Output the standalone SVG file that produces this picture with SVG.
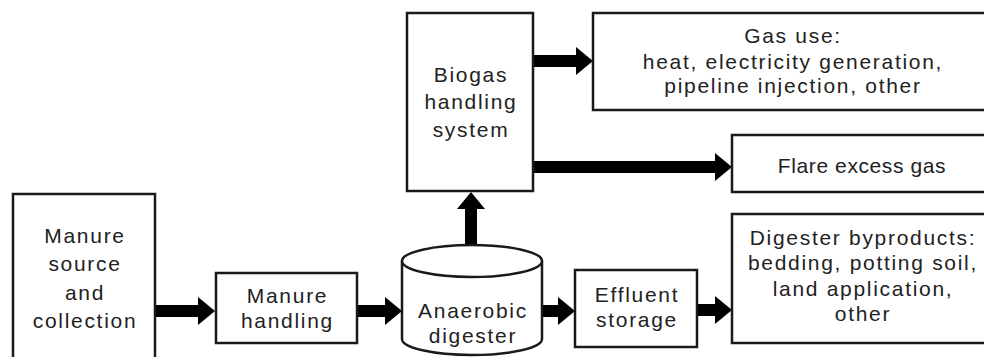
<svg xmlns="http://www.w3.org/2000/svg" width="984" height="357" viewBox="0 0 984 357">
  <style>
    .box { fill: #ffffff; stroke: #1a1a1a; stroke-width: 2.5; }
    .lbl { font-family: "Liberation Sans", Arial, sans-serif; font-size: 21px; letter-spacing: 1.7px; fill: #222222; text-anchor: middle; }
    .lbl.tight { letter-spacing: 0.6px; }
    .flow { stroke: #000000; stroke-width: 12; fill: none; marker-end: url(#head); }
  </style>
  <defs>
    <marker id="head" markerUnits="userSpaceOnUse" markerWidth="17" markerHeight="29" refX="0" refY="14" orient="auto" overflow="visible">
      <path d="M-1,0 L16,14 L-1,28 Z" fill="#000000"/>
    </marker>
  </defs>
  <rect width="984" height="357" fill="#ffffff"/>

  <!-- connectors -->
  <g id="connectors">
    <line class="flow" x1="156" y1="311" x2="199" y2="311"/>
    <line class="flow" x1="357" y1="311" x2="386" y2="311"/>
    <line class="flow" x1="542" y1="311" x2="559" y2="311"/>
    <line class="flow" x1="697" y1="310" x2="716" y2="310"/>
    <line class="flow" x1="471" y1="245" x2="471" y2="208"/>
    <line class="flow" x1="534" y1="61" x2="577" y2="61"/>
    <line class="flow" x1="534" y1="167" x2="716" y2="167"/>
  </g>

  <!-- nodes -->
  <g id="manure-source">
    <rect class="box" x="13" y="194" width="142" height="175"/>
    <text class="lbl" x="85" y="243">Manure</text>
    <text class="lbl" x="85" y="271">source</text>
    <text class="lbl" x="85" y="300">and</text>
    <text class="lbl" x="85" y="328">collection</text>
  </g>

  <g id="manure-handling">
    <rect class="box" x="216" y="273" width="141" height="70"/>
    <text class="lbl" x="287.5" y="303">Manure</text>
    <text class="lbl" x="287.5" y="328">handling</text>
  </g>

  <g id="anaerobic-digester">
    <path class="box" d="M402,261 L402,339 A70,16 0 0 0 542,339 L542,261"/>
    <ellipse class="box" cx="472" cy="261" rx="70" ry="16"/>
    <text class="lbl" x="473" y="318">Anaerobic</text>
    <text class="lbl" x="473" y="343">digester</text>
  </g>

  <g id="effluent-storage">
    <rect class="box" x="575" y="270" width="122" height="77"/>
    <text class="lbl" x="637" y="302">Effluent</text>
    <text class="lbl" x="637" y="327">storage</text>
  </g>

  <g id="digester-byproducts">
    <rect class="box" x="732" y="214" width="260" height="129"/>
    <text class="lbl" x="863" y="245">Digester byproducts:</text>
    <text class="lbl" x="863" y="270">bedding, potting soil,</text>
    <text class="lbl" x="863" y="296">land application,</text>
    <text class="lbl" x="863" y="321">other</text>
  </g>

  <g id="biogas-handling">
    <rect class="box" x="407" y="13" width="126" height="178"/>
    <text class="lbl" x="471" y="82">Biogas</text>
    <text class="lbl" x="471" y="109">handling</text>
    <text class="lbl" x="471" y="137">system</text>
  </g>

  <g id="gas-use">
    <rect class="box" x="593" y="13" width="399" height="97"/>
    <text class="lbl" x="793" y="43">Gas use:</text>
    <text class="lbl" x="793" y="69">heat, electricity generation,</text>
    <text class="lbl" x="793" y="93">pipeline injection, other</text>
  </g>

  <g id="flare">
    <rect class="box" x="732" y="135" width="260" height="57"/>
    <text class="lbl tight" x="862" y="173">Flare excess gas</text>
  </g>
</svg>
